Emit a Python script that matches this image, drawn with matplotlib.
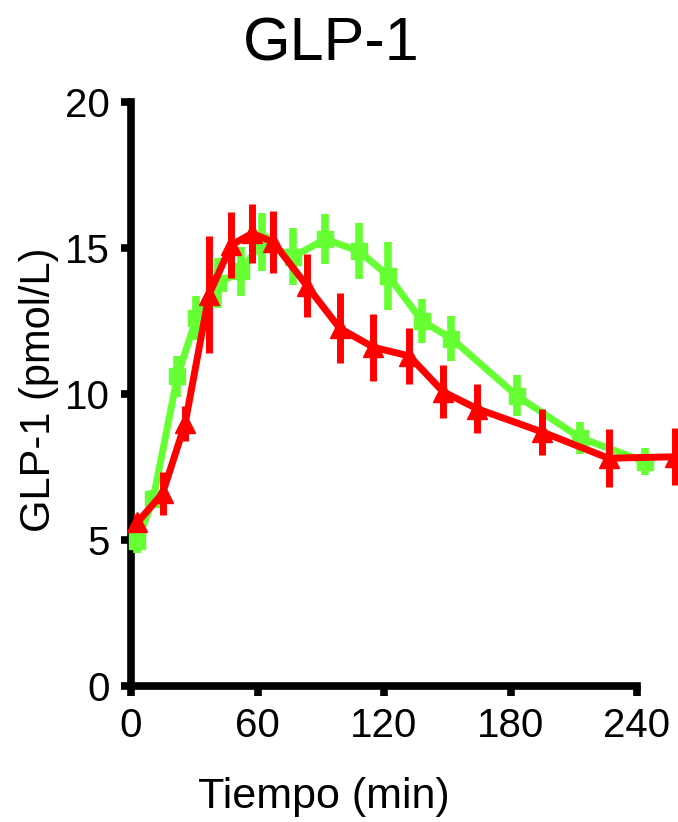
import matplotlib
matplotlib.use("Agg")
import matplotlib.pyplot as plt

plt.rcParams['font.family'] = ['Liberation Sans', 'DejaVu Sans']

# Data
green_t = [3, 10.5, 22, 31, 41.5, 52, 62, 77, 92, 108, 122, 138, 152, 183, 213, 244]
green_y = [4.95, 6.4, 10.6, 12.6, 13.8, 14.2, 15.2, 14.7, 15.3, 14.9, 14.05, 12.5, 11.9, 9.94, 8.5, 7.68]
green_err = [0.4, 0.3, 0.7, 0.74, 0.86, 0.83, 1.0, 0.97, 0.86, 0.97, 1.17, 0.75, 0.77, 0.71, 0.54, 0.46]

red_t = [3, 15, 25.7, 37, 47.5, 57.5, 67.5, 83.5, 99, 115, 132, 148, 164, 195, 226.5, 258]
red_y = [5.6, 6.6, 9.0, 13.4, 15.1, 15.5, 15.2, 13.7, 12.25, 11.6, 11.3, 10.08, 9.5, 8.7, 7.8, 7.85]
red_err = [0.3, 0.74, 0.6, 2.0, 1.14, 1.0, 1.05, 1.08, 1.2, 1.14, 0.97, 0.9, 0.83, 0.8, 1.0, 0.97]

x_ticks = [0, 60, 120, 180, 240]
y_ticks = [0, 5, 10, 15, 20]

W, H = 678, 822
fig = plt.figure(figsize=(W / 100, H / 100), dpi=100)
ax = fig.add_axes([131/W, 1 - 686/H, (637 - 131)/W, (686 - 102)/H])

green = '#66FF33'
red = '#FF0000'

ax.errorbar(green_t, green_y, yerr=green_err, color=green, lw=5, marker='s', ms=11,
            elinewidth=5.5, capsize=0, clip_on=False, zorder=3)
ax.errorbar(red_t, red_y, yerr=red_err, color=red, lw=5, marker='^', ms=14,
            elinewidth=5, capsize=0, clip_on=False, zorder=4)

ax.set_xlim(0, 240)
ax.set_ylim(0, 20)
ax.set_xticks(x_ticks)
ax.set_yticks(y_ticks)
ax.spines['top'].set_visible(False)
ax.spines['right'].set_visible(False)
for s in ['left', 'bottom']:
    ax.spines[s].set_linewidth(5.5)
    ax.spines[s].set_capstyle('projecting')
ax.tick_params(width=5.5, length=7, labelsize=29, pad=8)

fig.text(331/W, 1 - 45/H, 'GLP-1', fontsize=44, ha='center', va='center')
fig.text(324/W, 1 - 797/H, 'Tiempo (min)', fontsize=31, ha='center', va='center')
fig.text(50/W, 1 - 390/H, 'GLP-1 (pmol/L)', fontsize=30, ha='center', va='baseline',
         rotation=90, rotation_mode='anchor')

fig.savefig('out.png', dpi=100)
